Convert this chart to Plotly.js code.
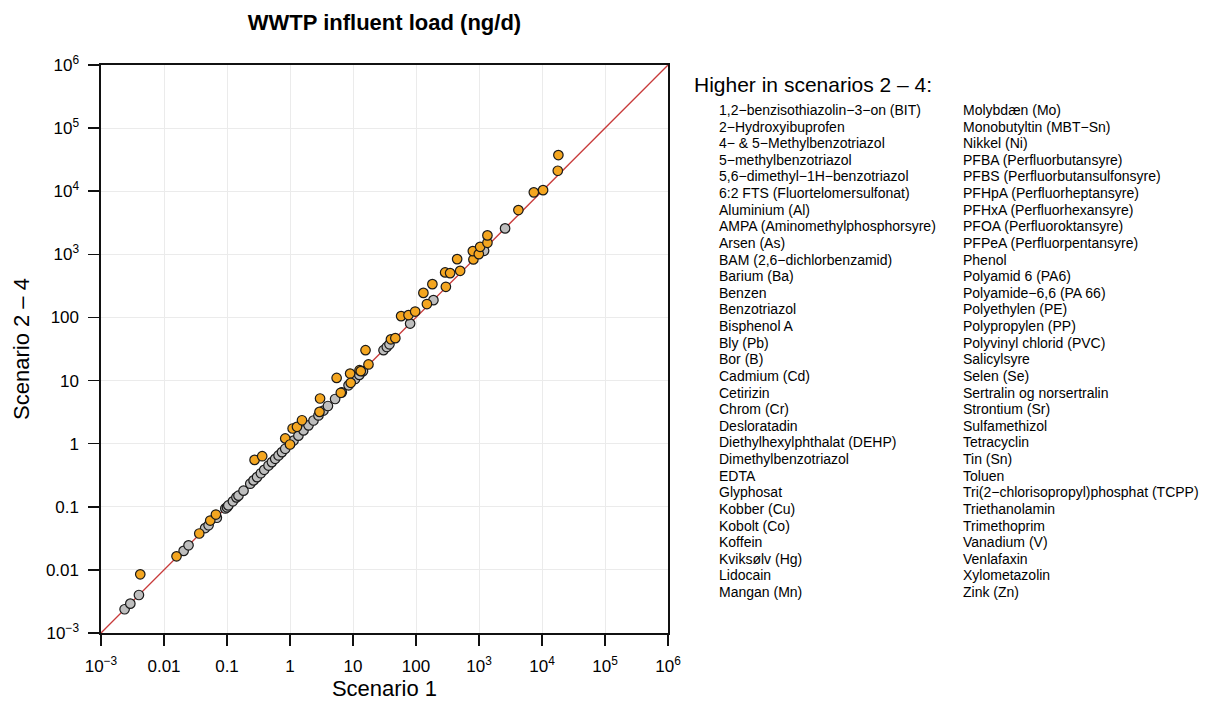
<!DOCTYPE html>
<html>
<head>
<meta charset="utf-8">
<script src="https://cdn.plot.ly/plotly-3.0.1.min.js"></script>
<style>html,body{margin:0;padding:0;background:#fff;}#chart{width:1218px;height:722px;}</style>
</head>
<body>
<div id="chart"></div>
<script>
// Substances with similar load in both scenarios (grey)
const grayScenario1 = [0.00237, 0.00292, 0.0040, 0.0205, 0.0245, 0.045, 0.051, 0.069, 0.094, 0.1, 0.105,
  0.124, 0.141, 0.152, 0.183, 0.234, 0.264, 0.30, 0.345, 0.39, 0.456, 0.516, 0.582, 0.658, 0.745, 0.84,
  1.0, 1.14, 1.36, 1.64, 1.97, 2.36, 2.83, 3.4, 4.0, 5.2, 6.65, 8.5, 10.8, 12.6, 14.4, 30.5, 34.4, 37.9,
  80.7, 189, 1205, 2594];
const grayScenario24 = [0.00238, 0.00292, 0.0040, 0.0200, 0.0245, 0.046, 0.051, 0.067, 0.094, 0.098, 0.105,
  0.122, 0.141, 0.150, 0.180, 0.232, 0.262, 0.295, 0.340, 0.385, 0.450, 0.510, 0.575, 0.650, 0.735, 0.83,
  0.99, 1.12, 1.34, 1.62, 1.95, 2.33, 2.80, 3.35, 3.95, 5.1, 6.5, 8.4, 10.6, 12.3, 14.1, 30.3, 34.0, 37.5,
  80.0, 188, 1138, 2577];

// Substances higher in scenarios 2-4 (orange)
const orangeScenario1 = [0.0042, 0.0158, 0.0363, 0.0542, 0.0667, 0.274, 0.362, 0.84, 1.0, 1.10, 1.29, 1.55,
  2.94, 3.0, 5.5, 6.4, 9.0, 9.2, 12.7, 13.3, 15.8, 17.6, 40, 47, 58, 76, 97, 131, 149, 182, 290, 348, 298,
  502, 450, 815, 798, 993, 1042, 1361, 1361, 4220, 7413, 10400, 17800, 18200];
const orangeScenario24 = [0.0085, 0.0164, 0.0377, 0.0605, 0.0753, 0.553, 0.633, 1.21, 0.97, 1.74, 1.85, 2.35,
  3.19, 5.2, 11.0, 6.4, 12.9, 9.2, 14.6, 14.1, 30.3, 18.0, 45, 47, 105, 109, 124, 245, 163, 337, 517, 504, 306,
  548, 840, 830, 1125, 1008, 1316, 1524, 1995, 5025, 9590, 10400, 21100, 37400];

const identityLine = [0.001, 1e6];

const tickValues = [0.001, 0.01, 0.1, 1, 10, 100, 1000, 1e4, 1e5, 1e6];
const tickLabels = ['10<sup>−3</sup>', '0.01', '0.1', '1', '10', '100', '10<sup>3</sup>', '10<sup>4</sup>', '10<sup>5</sup>', '10<sup>6</sup>'];

const legendHeading = 'Higher in scenarios 2 – 4:';
const namesColumn1 = ['1,2−benzisothiazolin−3−on (BIT)', '2−Hydroxyibuprofen', '4− & 5−Methylbenzotriazol',
  '5−methylbenzotriazol', '5,6−dimethyl−1H−benzotriazol', '6:2 FTS (Fluortelomersulfonat)', 'Aluminium (Al)',
  'AMPA (Aminomethylphosphorsyre)', 'Arsen (As)', 'BAM (2,6−dichlorbenzamid)', 'Barium (Ba)', 'Benzen',
  'Benzotriazol', 'Bisphenol A', 'Bly (Pb)', 'Bor (B)', 'Cadmium (Cd)', 'Cetirizin', 'Chrom (Cr)', 'Desloratadin',
  'Diethylhexylphthalat (DEHP)', 'Dimethylbenzotriazol', 'EDTA', 'Glyphosat', 'Kobber (Cu)', 'Kobolt (Co)',
  'Koffein', 'Kviksølv (Hg)', 'Lidocain', 'Mangan (Mn)'];
const namesColumn2 = ['Molybdæn (Mo)', 'Monobutyltin (MBT−Sn)', 'Nikkel (Ni)', 'PFBA (Perfluorbutansyre)',
  'PFBS (Perfluorbutansulfonsyre)', 'PFHpA (Perfluorheptansyre)', 'PFHxA (Perfluorhexansyre)',
  'PFOA (Perfluoroktansyre)', 'PFPeA (Perfluorpentansyre)', 'Phenol', 'Polyamid 6 (PA6)', 'Polyamide−6,6 (PA 66)',
  'Polyethylen (PE)', 'Polypropylen (PP)', 'Polyvinyl chlorid (PVC)', 'Salicylsyre', 'Selen (Se)',
  'Sertralin og norsertralin', 'Strontium (Sr)', 'Sulfamethizol', 'Tetracyclin', 'Tin (Sn)', 'Toluen',
  'Tri(2−chlorisopropyl)phosphat (TCPP)', 'Triethanolamin', 'Trimethoprim', 'Vanadium (V)', 'Venlafaxin',
  'Xylometazolin', 'Zink (Zn)'];

const FONT = 'Liberation Sans, Arial, Helvetica, sans-serif';
const PL = 101, PR = 668, PT = 65, PB = 633;
const W = PR - PL, H = PB - PT;
const px = x => (x - PL) / W;
const py = y => (PB - y) / H;

const traces = [
  {x: identityLine, y: identityLine, mode: 'lines', line: {color: '#C83A3A', width: 1.3}, hoverinfo: 'skip', showlegend: false},
  {x: grayScenario1, y: grayScenario24, mode: 'markers', showlegend: false,
   marker: {size: 9.5, color: '#BEBEBE', line: {color: '#1a1a1a', width: 1.2}}},
  {x: orangeScenario1, y: orangeScenario24, mode: 'markers', showlegend: false,
   marker: {size: 9.5, color: '#F4A620', line: {color: '#1a1a1a', width: 1.2}}}
];

const annotations = [];
annotations.push({xref: 'paper', yref: 'paper', x: px(692), y: py(84), xanchor: 'left', yanchor: 'middle',
  text: legendHeading, showarrow: false, font: {family: FONT, size: 21, color: '#000'}});
const rowStart = 110, rowStep = 16.62;
namesColumn1.forEach((t, i) => annotations.push({xref: 'paper', yref: 'paper', x: px(717), y: py(rowStart + i * rowStep),
  xanchor: 'left', yanchor: 'middle', text: t, showarrow: false, font: {family: FONT, size: 14, color: '#000'}}));
namesColumn2.forEach((t, i) => annotations.push({xref: 'paper', yref: 'paper', x: px(961), y: py(rowStart + i * rowStep),
  xanchor: 'left', yanchor: 'middle', text: t, showarrow: false, font: {family: FONT, size: 14, color: '#000'}}));

const axisCommon = {
  type: 'log', range: [-3, 6], tickvals: tickValues, ticktext: tickLabels,
  showgrid: true, gridcolor: '#EBEBEB', gridwidth: 1, zeroline: false,
  showline: true, mirror: true, linecolor: '#111', linewidth: 1.6,
  ticks: 'outside', ticklen: 11, tickwidth: 1.5, tickcolor: '#111',
  tickfont: {family: FONT, size: 17, color: '#000'}
};

const layout = {
  width: 1218, height: 722,
  margin: {l: PL, r: 1218 - PR, t: PT, b: 722 - PB, pad: 0},
  paper_bgcolor: '#fff', plot_bgcolor: '#fff',
  font: {family: FONT, color: '#000'},
  title: {text: '<b>WWTP influent load (ng/d)</b>', x: 0.5, xref: 'paper', y: 1 - 22 / 722, yref: 'container',
    yanchor: 'middle', font: {family: FONT, size: 22, color: '#000'}},
  xaxis: Object.assign({}, axisCommon, {
    ticklabelstandoff: 6,
    title: {text: 'Scenario 1', font: {family: FONT, size: 22, color: '#000'}, standoff: 1}
  }),
  yaxis: Object.assign({}, axisCommon, {
    ticklabelstandoff: 6,
    title: {text: 'Scenario 2 – 4', font: {family: FONT, size: 22, color: '#000'}, standoff: 10}
  }),
  annotations: annotations,
  showlegend: false
};

Plotly.newPlot('chart', traces, layout, {displayModeBar: false, staticPlot: true});
</script>
</body>
</html>
